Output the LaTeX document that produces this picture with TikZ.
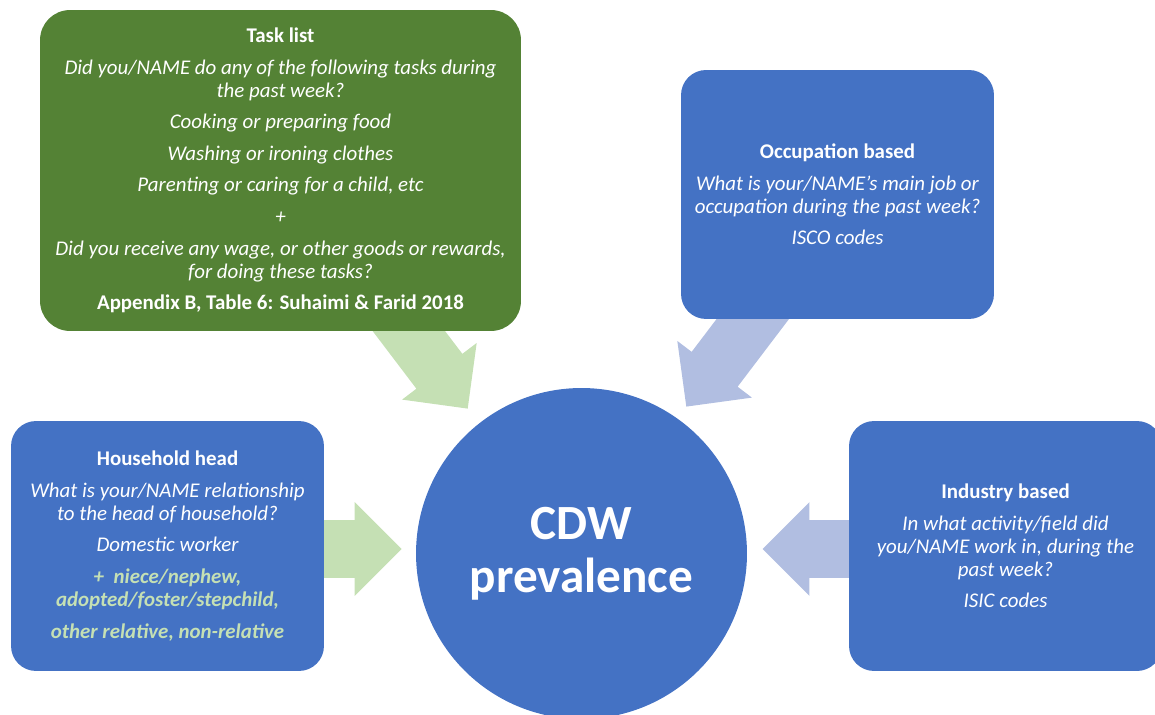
\documentclass[tikz,border=0pt]{standalone}
\usepackage{fontspec}
\setmainfont{Carlito}
\usepackage{tikz}
\usetikzlibrary{shapes.arrows, positioning}

\definecolor{boxblue}{HTML}{4472C4}
\definecolor{boxgreen}{HTML}{548235}
\definecolor{arrowgreen}{HTML}{C5E0B4}
\definecolor{arrowblue}{HTML}{B1BEE1}
\definecolor{textgreen}{HTML}{C5E0B4}

\tikzset{
  infobox/.style={rounded corners=0.5cm, fill=boxblue, text=white, align=center,
    inner sep=0pt, font=\fontsize{11.9}{13}\selectfont\itshape},
  taskbox/.style={infobox, fill=boxgreen, rounded corners=0.6cm},
  blockarrow/.style={single arrow, draw=none, inner xsep=0pt, inner ysep=0.57cm,
    single arrow head extend=0.36cm, single arrow tip angle=90, anchor=tip},
  garrow/.style={blockarrow, fill=arrowgreen},
  barrow/.style={blockarrow, fill=arrowblue}
}

\begin{document}
\begin{tikzpicture}[x=0.02cm, y=-0.02cm]
  \useasboundingbox (0,0) rectangle (1155,715);

  % arrows into the circle (tails hidden under the boxes)
  \node[garrow, rotate=-52.8, minimum height=2.8cm] (tarrow) at (468,409) {};
  \node[barrow, rotate=-127.2, minimum height=2.8cm] (oarrow) at (686,407) {};
  \node[garrow, minimum height=2.2cm] (harrow) at (402,549) {};
  \node[barrow, rotate=180, minimum height=2.2cm] (iarrow) at (762,549) {};

  \node[taskbox, minimum width=9.62cm, minimum height=6.42cm] (task) at (280.5,170.5)
    {\textbf{\upshape Task list}\\[5pt]
     Did you/NAME do any of the following tasks during\\
     the past week?\\[5pt]
     Cooking or preparing food\\[5pt]
     Washing or ironing clothes\\[5pt]
     Parenting or caring for a child, etc\\[5pt]
     +\\[5pt]
     Did you receive any wage, or other goods or rewards,\\
     for doing these tasks?\\[5pt]
     \textbf{\upshape Appendix B, Table 6: Suhaimi \& Farid 2018}};

  \node[infobox, minimum width=6.26cm, minimum height=4.98cm] (occup) at (837.5,194.5)
    {\textbf{\upshape Occupation based}\\[5pt]
     What is your/NAME’s main job or\\
     occupation during the past week?\\[5pt]
     ISCO codes};

  \node[infobox, minimum width=6.26cm, minimum height=5cm] (hhead) at (167.5,546)
    {\textbf{\upshape Household head}\\[5pt]
     What is your/NAME relationship\\
     to the head of household?\\[5pt]
     Domestic worker\\[5pt]
     \textcolor{textgreen}{\bfseries +\ \ niece/nephew,}\\
     \textcolor{textgreen}{\bfseries adopted/foster/stepchild,}\\[5pt]
     \textcolor{textgreen}{\bfseries other relative, non-relative}};

  \node[infobox, minimum width=6.26cm, minimum height=5cm] (industry) at (1005.5,546)
    {\textbf{\upshape Industry based}\\[5pt]
     In what activity/field did\\
     you/NAME work in, during the\\
     past week?\\[5pt]
     ISIC codes};

  \node[circle, fill=boxblue, text=white, minimum size=6.62cm, inner sep=0pt,
    align=center, font=\fontsize{28}{30}\selectfont\bfseries] (cdw) at (581.5,553.5)
    {CDW\\prevalence};
\end{tikzpicture}
\end{document}
